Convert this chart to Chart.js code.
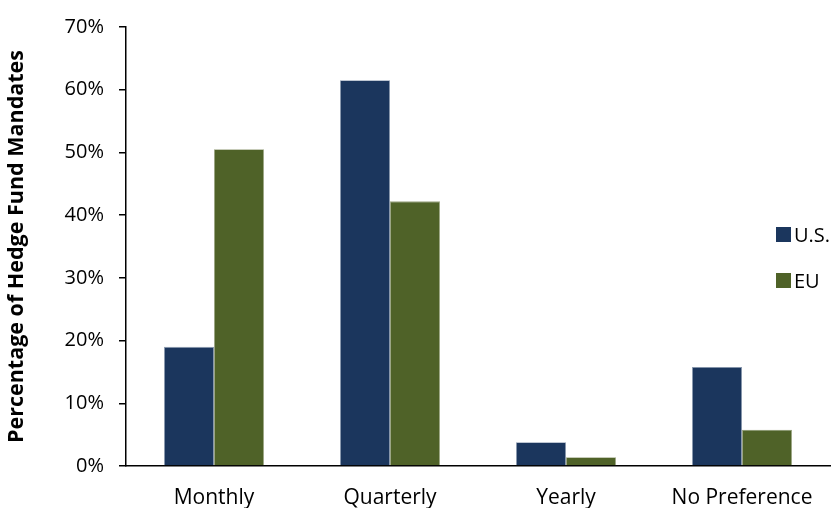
<!DOCTYPE html>
<html>
<head>
<meta charset="utf-8">
<script src="https://cdn.jsdelivr.net/npm/chart.js@4/dist/chart.umd.min.js"></script>
<style>
  html, body { margin: 0; padding: 0; background: #fff; }
  #wrap { width: 837px; height: 508px; }
</style>
</head>
<body>
<div id="wrap"><canvas id="myChart" width="837" height="508"></canvas></div>
<script>
'use strict';

// ====================== DATA ======================//
let categories = ['Monthly', 'Quarterly', 'Yearly', 'No Preference'];
let usValues = [19.0, 61.5, 3.8, 15.8];
let euValues = [50.5, 42.2, 1.4, 5.8];
let seriesNames = ['U.S.', 'EU'];
let yTicks = [0, 10, 20, 30, 40, 50, 60, 70];

let usColor = '#1b365d';
let euColor = '#4f6228';
let fontName = '"Open Sans", Lato, sans-serif';

// legend drawn inside the plot, like the original
let sideLegend = {
  id: 'sideLegend',
  afterDraw(chart) {
    let ctx = chart.ctx;
    let items = chart.data.datasets;
    ctx.save();
    ctx.font = '20px ' + fontName;
    ctx.textBaseline = 'middle';
    for (let i = 0; i < items.length; i++) {
      let y = 235 + i * 46;
      ctx.fillStyle = items[i].backgroundColor;
      ctx.fillRect(776, y - 8, 15, 15);
      ctx.fillStyle = '#000';
      ctx.fillText(items[i].label, 794, y + 1);
    }
    ctx.restore();
  }
};

let chartObject = {
  type: 'bar',
  data: {
    labels: categories,
    datasets: [
      {
        label: seriesNames[0],
        data: usValues,
        backgroundColor: usColor,
        borderColor: '#8c9bb0',
        borderWidth: 0.8
      },
      {
        label: seriesNames[1],
        data: euValues,
        backgroundColor: euColor,
        borderColor: '#9aa482',
        borderWidth: 0.8
      }
    ]
  },
  options: {
    responsive: false,
    animation: false,
    layout: { padding: { left: 0, right: 7, top: 20, bottom: 0 } },
    plugins: {
      legend: { display: false },
      tooltip: { enabled: false }
    },
    datasets: {
      bar: { categoryPercentage: 0.568, barPercentage: 1.0 }
    },
    scales: {
      x: {
        grid: { display: false },
        border: { color: '#000', width: 1.5 },
        ticks: { color: '#000', font: { family: fontName, size: 21 }, padding: 11 },
        afterFit(scale) { scale.height = 42; }
      },
      y: {
        min: 0,
        max: 70,
        afterBuildTicks(scale) {
          scale.ticks = yTicks.map(v => ({ value: v }));
        },
        grid: {
          display: true,
          drawOnChartArea: false,
          drawTicks: true,
          tickLength: 7,
          color: '#000',
          lineWidth: 1.5
        },
        border: { color: '#000', width: 1.5 },
        ticks: {
          color: '#000',
          padding: 15,
          font: { family: fontName, size: 20 },
          callback: v => v + '%'
        },
        title: {
          display: true,
          text: 'Percentage of Hedge Fund Mandates',
          color: '#000',
          font: { family: fontName, size: 21.5, weight: 'bold' },
          padding: { top: 4, bottom: 4 }
        },
        afterFit(scale) { scale.width = 126; }
      }
    }
  },
  plugins: [sideLegend]
};

let ctx = document.getElementById('myChart').getContext('2d');
let myChart = new Chart(ctx, chartObject);
</script>
</body>
</html>
